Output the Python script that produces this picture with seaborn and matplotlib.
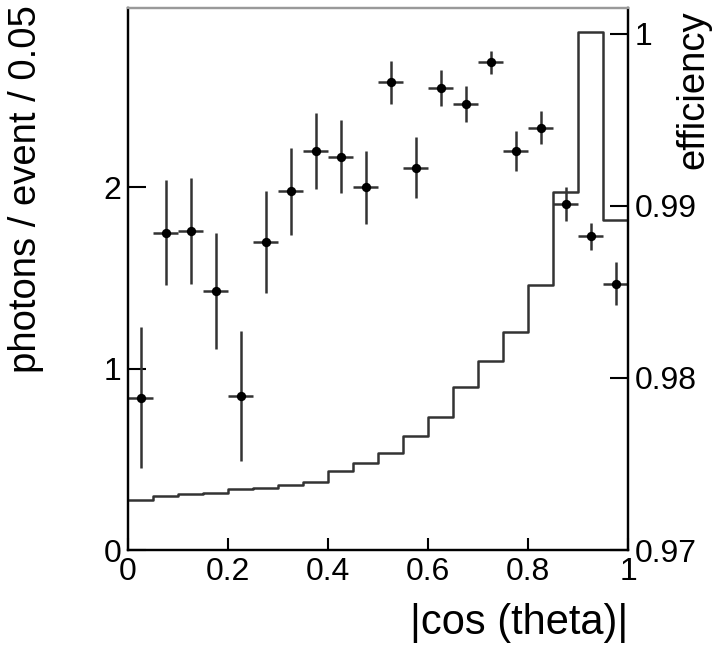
import matplotlib
matplotlib.use("Agg")
import matplotlib.pyplot as plt
import seaborn as sns

sns.set_theme(style="white")
plt.rcParams['font.family'] = ['Liberation Sans', 'DejaVu Sans']
plt.rcParams['text.color'] = 'black'
plt.rcParams['axes.labelcolor'] = 'black'
plt.rcParams['xtick.color'] = 'black'
plt.rcParams['ytick.color'] = 'black'

# photon yield per |cos(theta)| bin (left axis)
bin_centers = [0.025, 0.075, 0.125, 0.175, 0.225, 0.275, 0.325, 0.375, 0.425, 0.475,
               0.525, 0.575, 0.625, 0.675, 0.725, 0.775, 0.825, 0.875, 0.925, 0.975]
photons = [0.84, 1.75, 1.76, 1.43, 0.85, 1.70, 1.98, 2.20, 2.17, 2.00,
           2.58, 2.11, 2.55, 2.46, 2.69, 2.20, 2.33, 1.91, 1.73, 1.47]
photon_err = [0.39, 0.29, 0.29, 0.32, 0.36, 0.28, 0.24, 0.21, 0.20, 0.20,
              0.12, 0.17, 0.10, 0.10, 0.065, 0.11, 0.09, 0.095, 0.075, 0.12]

# efficiency histogram (right axis)
bin_edges = [0.0, 0.05, 0.1, 0.15, 0.2, 0.25, 0.3, 0.35, 0.4, 0.45, 0.5,
             0.55, 0.6, 0.65, 0.7, 0.75, 0.8, 0.85, 0.9, 0.95, 1.0]
efficiency = [0.97291, 0.97314, 0.97324, 0.97333, 0.97353, 0.97362, 0.97380, 0.97395, 0.97459, 0.97508,
              0.97566, 0.97665, 0.97775, 0.97949, 0.98099, 0.98266, 0.98541, 0.99083, 1.0001, 0.98919]

x_ticks = [0, 0.2, 0.4, 0.6, 0.8, 1]
x_tick_labels = ['0', '0.2', '0.4', '0.6', '0.8', '1']
y_ticks = [0, 1, 2]
y_tick_labels = ['0', '1', '2']
eff_ticks = [0.97, 0.98, 0.99, 1.0]
eff_tick_labels = ['0.97', '0.98', '0.99', '1']

fs = 23
fig, ax = plt.subplots(figsize=(7.14, 6.52), dpi=100)
fig.subplots_adjust(left=0.1793, right=0.8796, bottom=0.1564, top=0.9877)
ax2 = ax.twinx()

# efficiency step histogram
sns.histplot(x=bin_centers, weights=efficiency, bins=bin_edges, element='step', fill=False,
             color='#333333', linewidth=1.8, ax=ax2)

# photon points with error bars
ax.errorbar(bin_centers, photons, xerr=0.025, yerr=photon_err, fmt='none',
            ecolor='#333333', elinewidth=1.8, capsize=0, zorder=2)
sns.scatterplot(x=bin_centers, y=photons, color='black', s=45, edgecolor='black',
                linewidth=0, ax=ax, zorder=3)

ax.set_xlim(0, 1)
ax.set_ylim(0, 2.99)
ax2.set_ylim(0.97, 1.0015)

ax.set_xticks(x_ticks)
ax.set_xticklabels(x_tick_labels)
ax.set_yticks(y_ticks)
ax.set_yticklabels(y_tick_labels)
ax2.set_yticks(eff_ticks)
ax2.set_yticklabels(eff_tick_labels)

ax.tick_params(axis='x', direction='in', length=9, width=1.5, labelsize=fs, pad=5,
               bottom=True, top=False, color='black', labelcolor='black')
ax.tick_params(axis='y', direction='in', length=13, width=1.5, labelsize=fs, pad=5,
               left=True, right=False, color='black', labelcolor='black')
ax2.tick_params(axis='y', direction='in', length=13, width=1.5, labelsize=fs, pad=5,
                right=True, left=False, color='black', labelcolor='black')

ax.set_ylabel('photons / event / 0.05', fontsize=27.5, loc='top', color='black')
ax.yaxis.set_label_coords(-0.168, 1.0055)
ax2.set_ylabel('efficiency', fontsize=27.5, loc='top', color='black')
ax2.yaxis.set_label_coords(1.094, 0.996)
ax.set_xlabel('|cos (theta)|', fontsize=30, loc='right', color='black')
ax.xaxis.set_label_coords(1.0, -0.098)

for a in (ax, ax2):
    for side, sp in a.spines.items():
        sp.set_linewidth(1.6)
        sp.set_color('#999999' if side == 'top' else 'black')

fig.savefig('out.png', dpi=100)
